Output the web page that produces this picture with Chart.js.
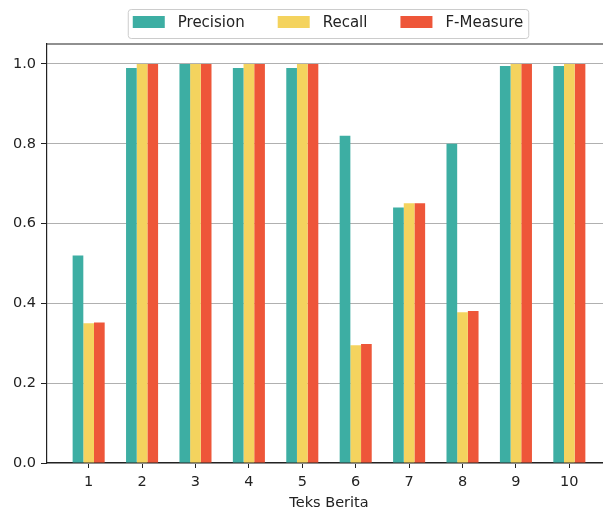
<!DOCTYPE html>
<html>
<head>
<title>Teks Berita</title>
<script src="https://cdn.jsdelivr.net/npm/chart.js"></script>
<style>
    body { margin: 0; overflow: hidden; background: #fff; }
    canvas { display: block; }
</style>
</head>
<body>
<canvas id="barChart" width="620" height="509"></canvas>
<script>
    var categories = [1, 2, 3, 4, 5, 6, 7, 8, 9, 10];
    var precision = [0.52, 0.99, 1.0, 0.99, 0.99, 0.82, 0.64, 0.80, 0.995, 0.995];
    var recall = [0.35, 1.0, 1.0, 1.0, 1.0, 0.295, 0.651, 0.378, 1.0, 1.0];
    var fMeasure = [0.352, 1.0, 1.0, 1.0, 1.0, 0.298, 0.651, 0.381, 1.0, 1.0];
    var yTicks = [0, 0.2, 0.4, 0.6, 0.8, 1.0];
    var seriesNames = ['Precision', 'Recall', 'F-Measure'];
    var colors = ['#3DAEA3', '#F4D35E', '#EE5639'];

    var font = '"DejaVu Sans", sans-serif';
    var ink = '#222';

    function points(values) {
        return values.map(function (v, i) { return { x: categories[i], y: v }; });
    }

    // matplotlib style legend box above the axes
    var boxLegend = {
        id: 'boxLegend',
        afterDraw: function (chart) {
            var ctx = chart.ctx, area = chart.chartArea;
            ctx.save();
            ctx.font = '15px ' + font;
            var sw = 32, gap = 13, space = 33, pad = 5;
            var total = 0;
            seriesNames.forEach(function (n, i) {
                total += sw + gap + ctx.measureText(n).width + (i < seriesNames.length - 1 ? space : 0);
            });
            var cx = (area.left + area.right) / 2 - 1;
            var x0 = cx - total / 2 - pad, y0 = 9, h = 29;
            ctx.fillStyle = 'rgba(255,255,255,0.8)';
            ctx.strokeStyle = '#cccccc';
            ctx.lineWidth = 1;
            ctx.beginPath();
            ctx.roundRect(x0 + 0.5, y0 + 0.5, total + pad * 2, h, 3);
            ctx.fill();
            ctx.stroke();
            var x = x0 + pad;
            ctx.textBaseline = 'middle';
            seriesNames.forEach(function (n, i) {
                ctx.fillStyle = colors[i];
                ctx.fillRect(x, 16, sw, 12);
                x += sw + gap;
                ctx.fillStyle = ink;
                ctx.fillText(n, x, 23);
                x += ctx.measureText(n).width + space;
            });
            // top spine
            ctx.strokeStyle = ink;
            ctx.lineWidth = 1.2;
            ctx.beginPath();
            ctx.moveTo(area.left, area.top);
            ctx.lineTo(area.right, area.top);
            ctx.stroke();
            ctx.restore();
        }
    };

    new Chart(document.getElementById('barChart'), {
        type: 'bar',
        data: {
            datasets: [
                { label: seriesNames[0], data: points(precision), backgroundColor: colors[0] },
                { label: seriesNames[1], data: points(recall), backgroundColor: colors[1] },
                { label: seriesNames[2], data: points(fMeasure), backgroundColor: colors[2] }
            ]
        },
        options: {
            responsive: false,
            animation: false,
            datasets: { bar: { categoryPercentage: 0.6, barPercentage: 1.0, borderWidth: 0 } },
            layout: { padding: { top: 44, left: 0, right: 9, bottom: 0 } },
            plugins: { legend: { display: false }, tooltip: { enabled: false } },
            scales: {
                x: {
                    type: 'linear',
                    min: 0.22,
                    max: 10.78,
                    offset: false,
                    z: 1,
                    afterBuildTicks: function (scale) {
                        scale.ticks = categories.map(function (c) { return { value: c }; });
                    },
                    afterFit: function (scale) { scale.height = 46; },
                    ticks: {
                        color: ink, padding: 6, maxRotation: 0,
                        font: { family: font, size: 14.5 },
                        callback: function (v) { return String(v); }
                    },
                    grid: { offset: false, drawOnChartArea: false, tickColor: ink, tickLength: 5 },
                    border: { color: ink, width: 1.2 },
                    title: {
                        display: true, text: 'Teks Berita', color: ink,
                        font: { family: font, size: 14.5 }, padding: { top: 2, bottom: -3 }
                    }
                },
                y: {
                    min: 0,
                    max: 1.05,
                    z: 1,
                    afterBuildTicks: function (scale) {
                        scale.ticks = yTicks.map(function (t) { return { value: t }; });
                    },
                    afterFit: function (scale) { scale.width = 47; },
                    ticks: {
                        color: ink, padding: 5,
                        font: { family: font, size: 14.5 },
                        callback: function (v) { return Number(v).toFixed(1); }
                    },
                    grid: { color: '#b0b0b0', lineWidth: 1, tickColor: ink, tickLength: 6 },
                    border: { color: ink, width: 1.2 }
                }
            }
        },
        plugins: [boxLegend]
    });
</script>
</body>
</html>
